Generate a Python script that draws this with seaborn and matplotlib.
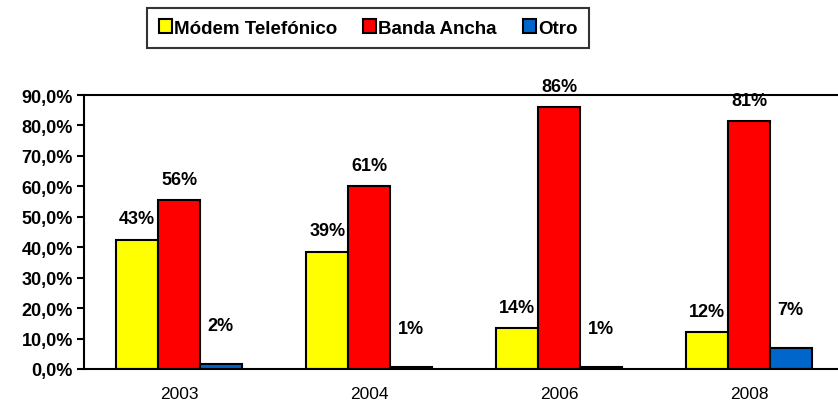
import matplotlib
matplotlib.use("Agg")
import matplotlib.pyplot as plt
import matplotlib.patches as mpatches
import numpy as np
import pandas as pd
import seaborn as sns

sns.set_theme(style="white")
plt.rcParams['font.family'] = ['Liberation Sans', 'DejaVu Sans']
plt.rcParams['text.color'] = 'black'
plt.rcParams['xtick.color'] = 'black'
plt.rcParams['ytick.color'] = 'black'
plt.rcParams['axes.labelcolor'] = 'black'

years = ['2003', '2004', '2006', '2008']
series = ['Módem Telefónico', 'Banda Ancha', 'Otro']
colors = ['#FFFF00', '#FF0000', '#0066CC']
modem = [42.5, 38.5, 13.5, 12.0]
banda = [55.5, 60.0, 86.0, 81.5]
otro = [1.5, 0.6, 0.6, 6.8]
modem_lbl = ['43%', '39%', '14%', '12%']
banda_lbl = ['56%', '61%', '86%', '81%']
otro_lbl = ['2%', '1%', '1%', '7%']
ytick_vals = [0, 10, 20, 30, 40, 50, 60, 70, 80, 90]
ytick_lbls = ['0,0%', '10,0%', '20,0%', '30,0%', '40,0%', '50,0%',
              '60,0%', '70,0%', '80,0%', '90,0%']

df = pd.DataFrame({
    'year': years * 3,
    'serie': [series[0]] * 4 + [series[1]] * 4 + [series[2]] * 4,
    'value': modem + banda + otro,
})

W, H = 838, 406
fig = plt.figure(figsize=(W / 100, H / 100), dpi=100)
ax = fig.add_axes([84 / W, 36 / H, (W - 84) / W, 274 / H])

sns.barplot(data=df, x='year', y='value', hue='serie', hue_order=series,
            palette=colors, width=0.66, edgecolor='black', linewidth=1.5,
            saturation=1, legend=False, ax=ax)

ax.set_xlim(-0.5, -0.5 + (W - 84) / 190)
ax.set_ylim(0, 90)
ax.set_xlabel('')
ax.set_ylabel('')

labels = [modem_lbl, banda_lbl, otro_lbl]
offsets = [15, 15, 28]
for cont, lbls, off in zip(ax.containers, labels, offsets):
    for bar, lab in zip(cont, lbls):
        xc = bar.get_x() + bar.get_width() / 2
        ax.annotate(lab, (xc, bar.get_height()), xytext=(0, off),
                    textcoords='offset points', ha='center', va='center',
                    fontsize=13, fontweight='bold', color='black')

ax.set_yticks(ytick_vals)
ax.set_yticklabels(ytick_lbls, fontsize=13, fontweight='bold')
ax.set_xticks(range(len(years)))
ax.set_xticklabels(years, fontsize=12.5)
ax.set_xticks(np.arange(-0.5, 3.0, 1.0), minor=True)
ax.tick_params(axis='x', which='major', length=0, pad=12)
ax.tick_params(axis='x', which='minor', length=5, width=1.5, direction='out', color='black')
ax.tick_params(axis='y', length=5, width=1.5, direction='out', color='black', pad=3, left=True)

for s in ['left', 'bottom', 'top']:
    ax.spines[s].set_color('black')
    ax.spines[s].set_linewidth(1.5)
ax.spines['right'].set_visible(False)
ax.grid(False)

handles = [mpatches.Patch(facecolor=c, edgecolor='black', linewidth=1.5) for c in colors]
leg = fig.legend(handles, series, loc='center', bbox_to_anchor=(368 / W, 1 - 29 / H),
                 ncol=3, frameon=True, fancybox=False, handlelength=0.7,
                 handleheight=0.7, handletextpad=0.1, columnspacing=1.4,
                 borderpad=0.6, borderaxespad=0, prop={'weight': 'bold', 'size': 13.5})
leg.get_frame().set_edgecolor('black')
leg.get_frame().set_linewidth(1.5)

fig.savefig('out.png', dpi=100)
